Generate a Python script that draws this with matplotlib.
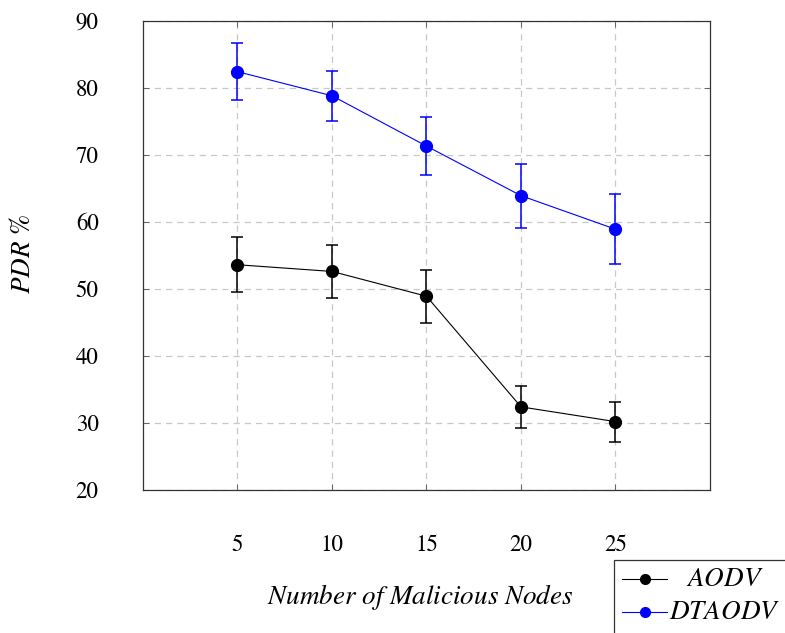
"""PDR versus number of malicious nodes for AODV and DTAODV, with error bars."""
import matplotlib

matplotlib.use("Agg")
import matplotlib.pyplot as plt  # noqa: E402
from matplotlib.lines import Line2D  # noqa: E402
from matplotlib.patches import Rectangle  # noqa: E402

plt.rcParams["font.family"] = ["STIXGeneral", "DejaVu Serif"]
plt.rcParams["mathtext.fontset"] = "stix"

W, H, DPI = 785, 633, 100
FS = 16.5      # tick labels
FS_IT = 19.5   # italic axis labels and legend entries

# malicious node counts
nodes = [5, 10, 15, 20, 25]

# packet delivery ratio (%) and error half-widths
aodv_pdr = [53.6, 52.6, 48.9, 32.4, 30.2]
aodv_err = [4.1, 4.0, 3.95, 3.1, 3.0]
dtaodv_pdr = [82.4, 78.8, 71.3, 63.9, 58.9]
dtaodv_err = [4.2, 3.7, 4.3, 4.8, 5.2]

yticks = [20, 30, 40, 50, 60, 70, 80, 90]
series_names = ["AODV", "DTAODV"]
series_colors = ["black", "#0000ff"]

fig = plt.figure(figsize=(W / DPI, H / DPI), dpi=DPI)
ax = fig.add_axes([143 / W, 1 - 490 / H, (710 - 143) / W, (490 - 20.7) / H])

for pdr, err, col in [(aodv_pdr, aodv_err, series_colors[0]),
                      (dtaodv_pdr, dtaodv_err, series_colors[1])]:
    ax.errorbar(nodes, pdr, yerr=err, color=col, lw=0.8, marker="o", ms=8.5,
                elinewidth=1.1, capsize=4.3, capthick=1.1, zorder=3)

ax.set_xlim(0, 30)
ax.set_ylim(20, 90)
ax.set_xticks(nodes)
ax.set_yticks(yticks)
ax.grid(True, color="#c8c8c8", ls=(0, (5, 4)), lw=0.9)
ax.tick_params(direction="in", length=4, width=0.6, color="#555555",
               top=True, right=True, labelsize=FS, pad=32)
for sp in ax.spines.values():
    sp.set_linewidth(0.9)
    sp.set_color("#333333")

fig.text(23 / W, 1 - 254 / H, r"$PDR\ \%$", rotation=90, ha="center",
         va="center", fontsize=FS_IT)
fig.text(420 / W, 1 - 597 / H, r"$Number\ of\ Malicious\ Nodes$",
         ha="center", va="center", fontsize=FS_IT)

# legend box sits in the lower right corner, running off the page edge
fig.patches.append(Rectangle((614 / W, -0.05), 0.3, 0.05 + 1 - 560 / H,
                             transform=fig.transFigure, fc="white",
                             ec="#333333", lw=0.9))
for name, col, ypx in zip(series_names, series_colors, [579, 612]):
    y = 1 - ypx / H
    fig.add_artist(Line2D([622 / W, 667 / W], [y, y], color=col, lw=0.8,
                          transform=fig.transFigure))
    fig.add_artist(Line2D([645 / W], [y], color=col, marker="o", ms=7,
                          transform=fig.transFigure))
    fig.text(725 / W, y, rf"${name}$", ha="center", va="center",
             fontsize=FS_IT)

fig.savefig("out.png", dpi=DPI)
